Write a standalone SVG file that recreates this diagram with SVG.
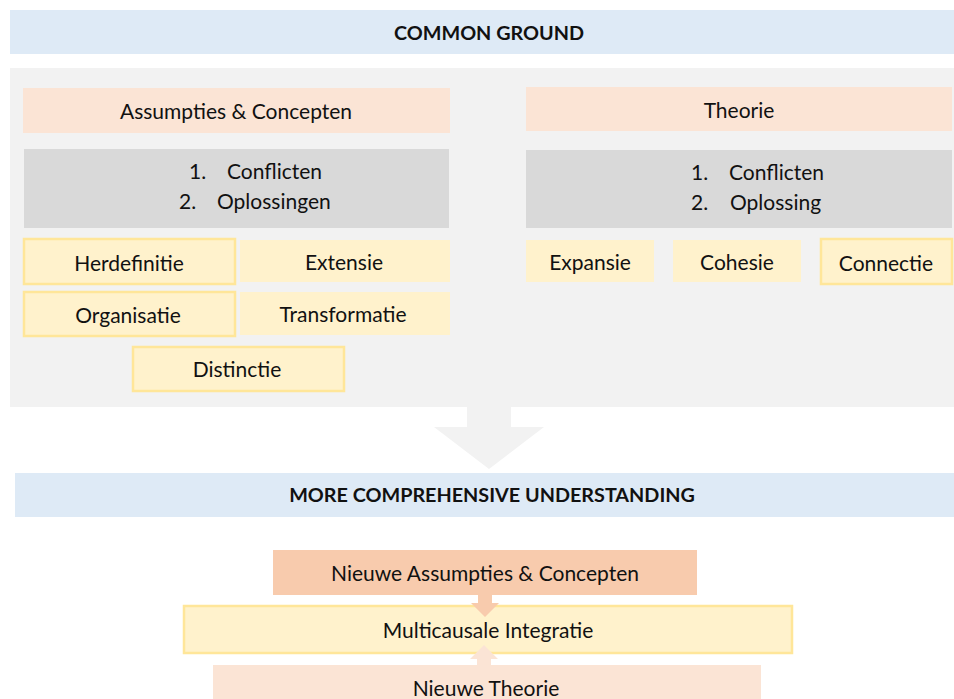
<svg xmlns="http://www.w3.org/2000/svg" width="954" height="699" viewBox="0 0 954 699">
<style>
text{font-family:Lato,"Open Sans","Liberation Sans",sans-serif;font-size:21px;fill:#111;text-anchor:middle;dominant-baseline:central}
text.s{text-anchor:start}
.hdr{fill:#deeaf6}
.hdr-t{font-weight:bold;font-size:19.8px}
.peach{fill:#fbe4d5}
.gray{fill:#d9d9d9}
.y{fill:#fff2cc}
.yb{fill:#fff2cc;stroke:#ffe699;stroke-width:2.5}
</style>
<rect width="954" height="699" fill="#fff"/>
<g id="common-ground"><rect class="hdr" x="10" y="10" width="944" height="44"/><text class="hdr-t" x="489" y="32">COMMON GROUND</text></g>
<g id="panel"><rect x="10" y="68" width="944" height="339" fill="#f2f2f2"/></g>
<g id="assumpties"><rect class="peach" x="23" y="88" width="427" height="45"/><text x="236" y="110">Assumpties &amp; Concepten</text></g>
<g id="theorie"><rect class="peach" x="526" y="87" width="426" height="44"/><text x="739" y="109">Theorie</text></g>
<g id="left-list"><rect class="gray" x="24" y="149" width="425" height="79"/><text class="s" x="189" y="170">1.</text><text class="s" x="227" y="170">Conflicten</text><text class="s" x="179" y="200">2.</text><text class="s" x="217" y="200">Oplossingen</text></g>
<g id="right-list"><rect class="gray" x="526" y="150" width="426" height="78"/><text class="s" x="691" y="171">1.</text><text class="s" x="729" y="171">Conflicten</text><text class="s" x="691" y="201">2.</text><text class="s" x="730" y="201">Oplossing</text></g>
<g id="herdefinitie"><rect class="yb" x="24" y="239" width="211" height="45"/><text x="129" y="262">Herdefinitie</text></g>
<g id="extensie"><rect class="y" x="240" y="240" width="210" height="42"/><text x="344" y="261">Extensie</text></g>
<g id="organisatie"><rect class="yb" x="24" y="292" width="211" height="44"/><text x="128" y="314">Organisatie</text></g>
<g id="transformatie"><rect class="y" x="240" y="292" width="210" height="43"/><text x="343" y="313">Transformatie</text></g>
<g id="distinctie"><rect class="yb" x="133" y="347" width="211" height="44"/><text x="237" y="368">Distinctie</text></g>
<g id="expansie"><rect class="y" x="526" y="240" width="128" height="42"/><text x="590" y="261">Expansie</text></g>
<g id="cohesie"><rect class="y" x="673" y="240" width="128" height="42"/><text x="737" y="261">Cohesie</text></g>
<g id="connectie"><rect class="yb" x="821" y="239" width="131" height="45"/><text x="886" y="262">Connectie</text></g>
<g id="understanding"><rect class="hdr" x="15" y="473" width="939" height="44"/><text class="hdr-t" x="492" y="494">MORE COMPREHENSIVE UNDERSTANDING</text></g>
<g id="nieuwe-assumpties"><rect x="273" y="550" width="424" height="45" fill="#f8cbad"/><text x="485" y="572">Nieuwe Assumpties &amp; Concepten</text></g>
<g id="multicausale"><rect class="yb" x="184" y="606" width="608" height="47"/><text x="488" y="629">Multicausale Integratie</text></g>
<g id="nieuwe-theorie"><rect class="peach" x="213" y="665" width="548" height="40"/><text x="486" y="687">Nieuwe Theorie</text></g>
<g id="connectors">
<polygon points="467,407 511,407 511,427 544,427 489,469 434,427 467,427" fill="#f2f2f2"/>
<polygon points="478,595 492,595 492,603 499,603 485,617 471,603 478,603" fill="#f8cbad"/>
<polygon points="477,665 491,665 491,659 498,659 484,645 470,659 477,659" fill="#fbe4d5"/>
</g>
</svg>
